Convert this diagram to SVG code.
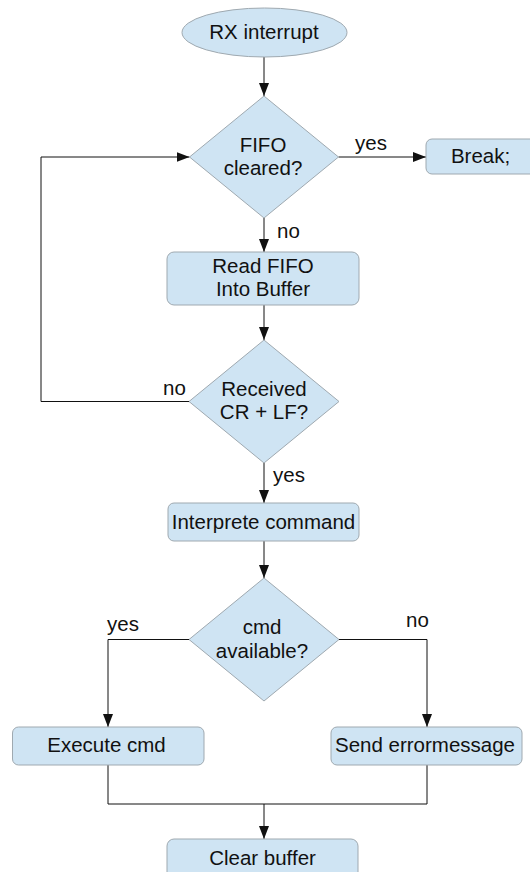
<svg xmlns="http://www.w3.org/2000/svg" width="530" height="872" viewBox="0 0 530 872">
  <style>
    .shape { fill: #cfe4f3; stroke: #9fa9b0; stroke-width: 1; }
    .txt { font-family: "Liberation Sans", Arial, sans-serif; font-size: 20.5px; fill: #111; text-anchor: middle; }
    .lbl { font-family: "Liberation Sans", Arial, sans-serif; font-size: 20.5px; fill: #111; }
    .wire { fill: none; stroke: #111; stroke-width: 1; }
    .arrow { marker-end: url(#head); }
  </style>
  <defs>
    <marker id="head" markerUnits="userSpaceOnUse" markerWidth="14" markerHeight="11" refX="13" refY="5" orient="auto">
      <path d="M0,0 L13,5 L0,10 Z" fill="#111"/>
    </marker>
  </defs>
  <rect width="530" height="872" fill="#ffffff"/>

  <!-- connectors -->
  <g id="connectors">
    <path class="wire arrow" d="M264,57 L264,96"/>
    <path class="wire arrow" d="M338.5,157 L426,157"/>
    <path class="wire arrow" d="M264,218 L264,252"/>
    <path class="wire arrow" d="M264,305 L264,340"/>
    <path class="wire arrow" d="M189,401.5 L41,401.5 L41,157 L189.5,157"/>
    <path class="wire arrow" d="M264,463 L264,503"/>
    <path class="wire arrow" d="M264,541 L264,578"/>
    <path class="wire arrow" d="M189,639.5 L108,639.5 L108,727"/>
    <path class="wire arrow" d="M339,639.5 L427,639.5 L427,727"/>
    <path class="wire" d="M108,765 L108,804 L427,804 L427,765"/>
    <path class="wire arrow" d="M264,804 L264,839"/>
    <text class="lbl" x="355" y="150">yes</text>
    <text class="lbl" x="277" y="238">no</text>
    <text class="lbl" x="163" y="395">no</text>
    <text class="lbl" x="273" y="482">yes</text>
    <text class="lbl" x="107" y="631">yes</text>
    <text class="lbl" x="406" y="627">no</text>
  </g>

  <g id="start">
    <ellipse class="shape" cx="264.5" cy="32.5" rx="82.5" ry="24.5"/>
    <text class="txt" x="264" y="39">RX interrupt</text>
  </g>

  <g id="fifo-cleared">
    <polygon class="shape" points="264,96 338.5,157 264,218 189.5,157"/>
    <text class="txt" x="263" y="152">FIFO</text>
    <text class="txt" x="263" y="175">cleared?</text>
  </g>

  <g id="break">
    <rect class="shape" x="426" y="139" width="112" height="35" rx="6"/>
    <text class="txt" x="480.5" y="163">Break;</text>
  </g>

  <g id="read-fifo">
    <rect class="shape" x="167" y="252" width="192" height="53" rx="7"/>
    <text class="txt" x="263" y="273">Read FIFO</text>
    <text class="txt" x="263" y="296">Into Buffer</text>
  </g>

  <g id="received-crlf">
    <polygon class="shape" points="264,340 339,401.5 264,463 189,401.5"/>
    <text class="txt" x="264" y="396">Received</text>
    <text class="txt" x="264" y="419">CR + LF?</text>
  </g>

  <g id="interprete">
    <rect class="shape" x="168" y="503" width="191" height="38" rx="6"/>
    <text class="txt" x="263.5" y="529">Interprete command</text>
  </g>

  <g id="cmd-available">
    <polygon class="shape" points="264,578 339,639.5 264,701 189,639.5"/>
    <text class="txt" x="262" y="634">cmd</text>
    <text class="txt" x="262" y="658">available?</text>
  </g>

  <g id="execute">
    <rect class="shape" x="12.5" y="727" width="191.5" height="38" rx="6"/>
    <text class="txt" x="106.5" y="752">Execute cmd</text>
  </g>

  <g id="send-error">
    <rect class="shape" x="331" y="727" width="191" height="38" rx="6"/>
    <text class="txt" x="425" y="752">Send errormessage</text>
  </g>

  <g id="clear-buffer">
    <rect class="shape" x="167" y="839" width="191" height="45" rx="7"/>
    <text class="txt" x="262.5" y="865">Clear buffer</text>
  </g>
</svg>
